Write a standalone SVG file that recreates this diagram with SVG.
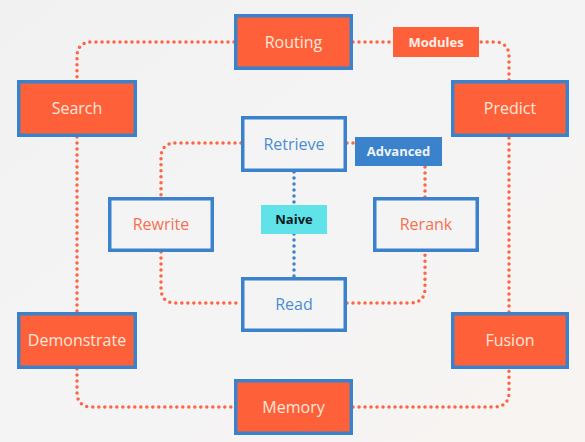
<svg xmlns="http://www.w3.org/2000/svg" width="585" height="442" viewBox="0 0 585 442">
<defs>
<linearGradient id="bg" x1="0" y1="0" x2="1" y2="1">
<stop offset="0" stop-color="#f1f1f2"/>
<stop offset="0.5" stop-color="#f4f4f5"/>
<stop offset="1" stop-color="#f8f4f1"/>
</linearGradient>
<style>
.mod rect{fill:#fe6139;stroke:#3b82cc;stroke-width:3.5}
.mod text{fill:#fde6dc;font-family:"Open Sans","Noto Sans",sans-serif;font-size:16px;text-anchor:middle}
.adv rect{fill:#f4f4f5;stroke:#3b82cc;stroke-width:3.5}
.adv text{font-family:"Open Sans","Noto Sans",sans-serif;font-size:16px;text-anchor:middle}
.blue{fill:#4a8dd3}
.orange{fill:#f8704f}
.tag text{font-family:"Open Sans","Noto Sans",sans-serif;font-size:13px;font-weight:bold;text-anchor:middle}
.dot{fill:none;stroke:#fd6545;stroke-width:3.5;stroke-linecap:round;stroke-dasharray:0 6}
.dotb{fill:none;stroke:#3b82cc;stroke-width:3.5;stroke-linecap:round;stroke-dasharray:0 6}
</style>
</defs>
<rect width="585" height="442" fill="url(#bg)"/>
<g id="connectors">
<path class="dot" d="M234,42 H92 Q77,42 77,57 V80"/>
<path class="dot" d="M77,137 V312"/>
<path class="dot" d="M77,369 V392 Q77,407 92,407 H234"/>
<path class="dot" d="M353,407 H494 Q509,407 509,392 V369"/>
<path class="dot" d="M509,312 V137"/>
<path class="dot" d="M509,80 V57 Q509,42 494,42 H479"/>
<path class="dot" d="M353,42 H393"/>
<path class="dot" d="M241,143 H176 Q161,143 161,158 V197"/>
<path class="dot" d="M161,252 V288 Q161,303 176,303 H241"/>
<path class="dot" d="M347,303 H410 Q425,303 425,288 V252"/>
<path class="dot" d="M425,197 V166"/>
<path class="dot" d="M347,143 H355"/>
<path class="dotb" d="M294,172 V205"/>
<path class="dotb" d="M294,234 V277"/>
</g>
<g id="routing" class="mod"><rect x="235.75" y="15.75" width="115.5" height="52.5"/><text x="293.5" y="48">Routing</text></g>
<g id="search" class="mod"><rect x="18.75" y="81.75" width="116.5" height="53.5"/><text x="77" y="114">Search</text></g>
<g id="predict" class="mod"><rect x="452.75" y="81.75" width="114.5" height="53.5"/><text x="510" y="114">Predict</text></g>
<g id="demonstrate" class="mod"><rect x="18.75" y="313.75" width="116.5" height="53.5"/><text x="77" y="346">Demonstrate</text></g>
<g id="fusion" class="mod"><rect x="452.75" y="313.75" width="114.5" height="53.5"/><text x="510" y="346">Fusion</text></g>
<g id="memory" class="mod"><rect x="235.75" y="380.75" width="115.5" height="52.5"/><text x="293.5" y="413">Memory</text></g>
<g id="retrieve" class="adv"><rect x="242.75" y="117.75" width="102.5" height="52.5"/><text class="blue" x="294" y="150">Retrieve</text></g>
<g id="rewrite" class="adv"><rect x="109.75" y="198.75" width="102.5" height="51.5"/><text class="orange" x="161" y="230">Rewrite</text></g>
<g id="rerank" class="adv"><rect x="374.75" y="198.75" width="102.5" height="51.5"/><text class="orange" x="426" y="230">Rerank</text></g>
<g id="read" class="adv"><rect x="242.75" y="278.75" width="102.5" height="51.5"/><text class="blue" x="294" y="310">Read</text></g>
<g id="modules" class="tag"><rect x="393" y="27" width="86" height="30" fill="#fe6139"/><text x="436" y="47" fill="#fdf0ea">Modules</text></g>
<g id="advanced" class="tag"><rect x="355" y="137" width="87" height="29" fill="#3b82cc"/><text x="398.5" y="156" fill="#eef4fb">Advanced</text></g>
<g id="naive" class="tag"><rect x="261" y="205" width="66" height="29" fill="#5fe3e8"/><text x="294" y="224" fill="#0b1a1c">Naive</text></g>
</svg>
